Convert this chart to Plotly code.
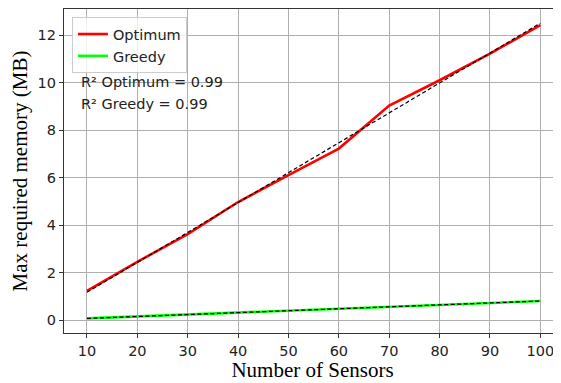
import numpy as np
import plotly.graph_objects as go

sensors = [10, 20, 30, 40, 50, 60, 70, 80, 90, 100]
optimum = [1.23, 2.45, 3.62, 4.97, 6.10, 7.22, 9.03, 10.10, 11.22, 12.42]
greedy = [0.07, 0.15, 0.22, 0.31, 0.39, 0.47, 0.56, 0.64, 0.72, 0.80]
r2_labels = ["R² Optimum = 0.99", "R² Greedy = 0.99"]

x = np.array(sensors, dtype=float)
fit_opt = np.polyval(np.polyfit(x, optimum, 1), x)
fit_gr = np.polyval(np.polyfit(x, greedy, 1), x)

fig = go.Figure()
fig.add_trace(go.Scatter(x=sensors, y=optimum, mode="lines", name="Optimum",
                         line=dict(color="#ff0000", width=2.6)))
fig.add_trace(go.Scatter(x=sensors, y=greedy, mode="lines", name="Greedy",
                         line=dict(color="#00ff00", width=2.6)))
fig.add_trace(go.Scatter(x=sensors, y=fit_opt, mode="lines", showlegend=False,
                         line=dict(color="black", width=1.2, dash="4px,2.5px")))
fig.add_trace(go.Scatter(x=sensors, y=fit_gr, mode="lines", showlegend=False,
                         line=dict(color="black", width=1.2, dash="4px,2.5px")))

tick_font = dict(family="DejaVu Sans", size=14.5, color="#222222")
title_font = dict(family="Liberation Serif", size=21, color="black")
# page body has an 8px margin: figure is sized to fill the 561x383 window from there
fig.update_layout(
    width=553, height=375,
    margin=dict(l=56, r=0, t=1, b=50),
    paper_bgcolor="white", plot_bgcolor="white",
    showlegend=True,
    legend=dict(x=0.016, y=0.975, xanchor="left", yanchor="top",
                bgcolor="rgba(255,255,255,0.8)", bordercolor="#cccccc", borderwidth=1,
                font=dict(family="DejaVu Sans", size=14.5, color="#222222"),
                tracegroupgap=0, itemwidth=30),
    xaxis=dict(range=[5.44, 104.1], tickvals=sensors, ticktext=[str(s) for s in sensors],
               showgrid=True, gridcolor="#b0b0b0", gridwidth=1,
               showline=True, linecolor="#333333", linewidth=1.2, mirror=True,
               ticks="outside", ticklen=4, tickcolor="#333333",
               tickfont=tick_font, zeroline=False, automargin=False,
               title=dict(text="Number of Sensors", font=title_font, standoff=2)),
    yaxis=dict(range=[-0.547, 13.1], tickvals=[0, 2, 4, 6, 8, 10, 12],
               showgrid=True, gridcolor="#b0b0b0", gridwidth=1,
               showline=True, linecolor="#333333", linewidth=1.2,
               ticks="outside", ticklen=4, tickcolor="#333333",
               tickfont=tick_font, zeroline=False, automargin=False,
               title=dict(text="Max required memory (MB)", font=title_font, standoff=4)),
)

ys = [0.775, 0.708]
for lbl, yy in zip(r2_labels, ys):
    fig.add_annotation(x=0.031, y=yy, xref="paper", yref="paper", text=lbl,
                       showarrow=False, xanchor="left", yanchor="middle",
                       font=dict(family="DejaVu Sans", size=14.5, color="#222222"))

fig.write_html("out.html")
